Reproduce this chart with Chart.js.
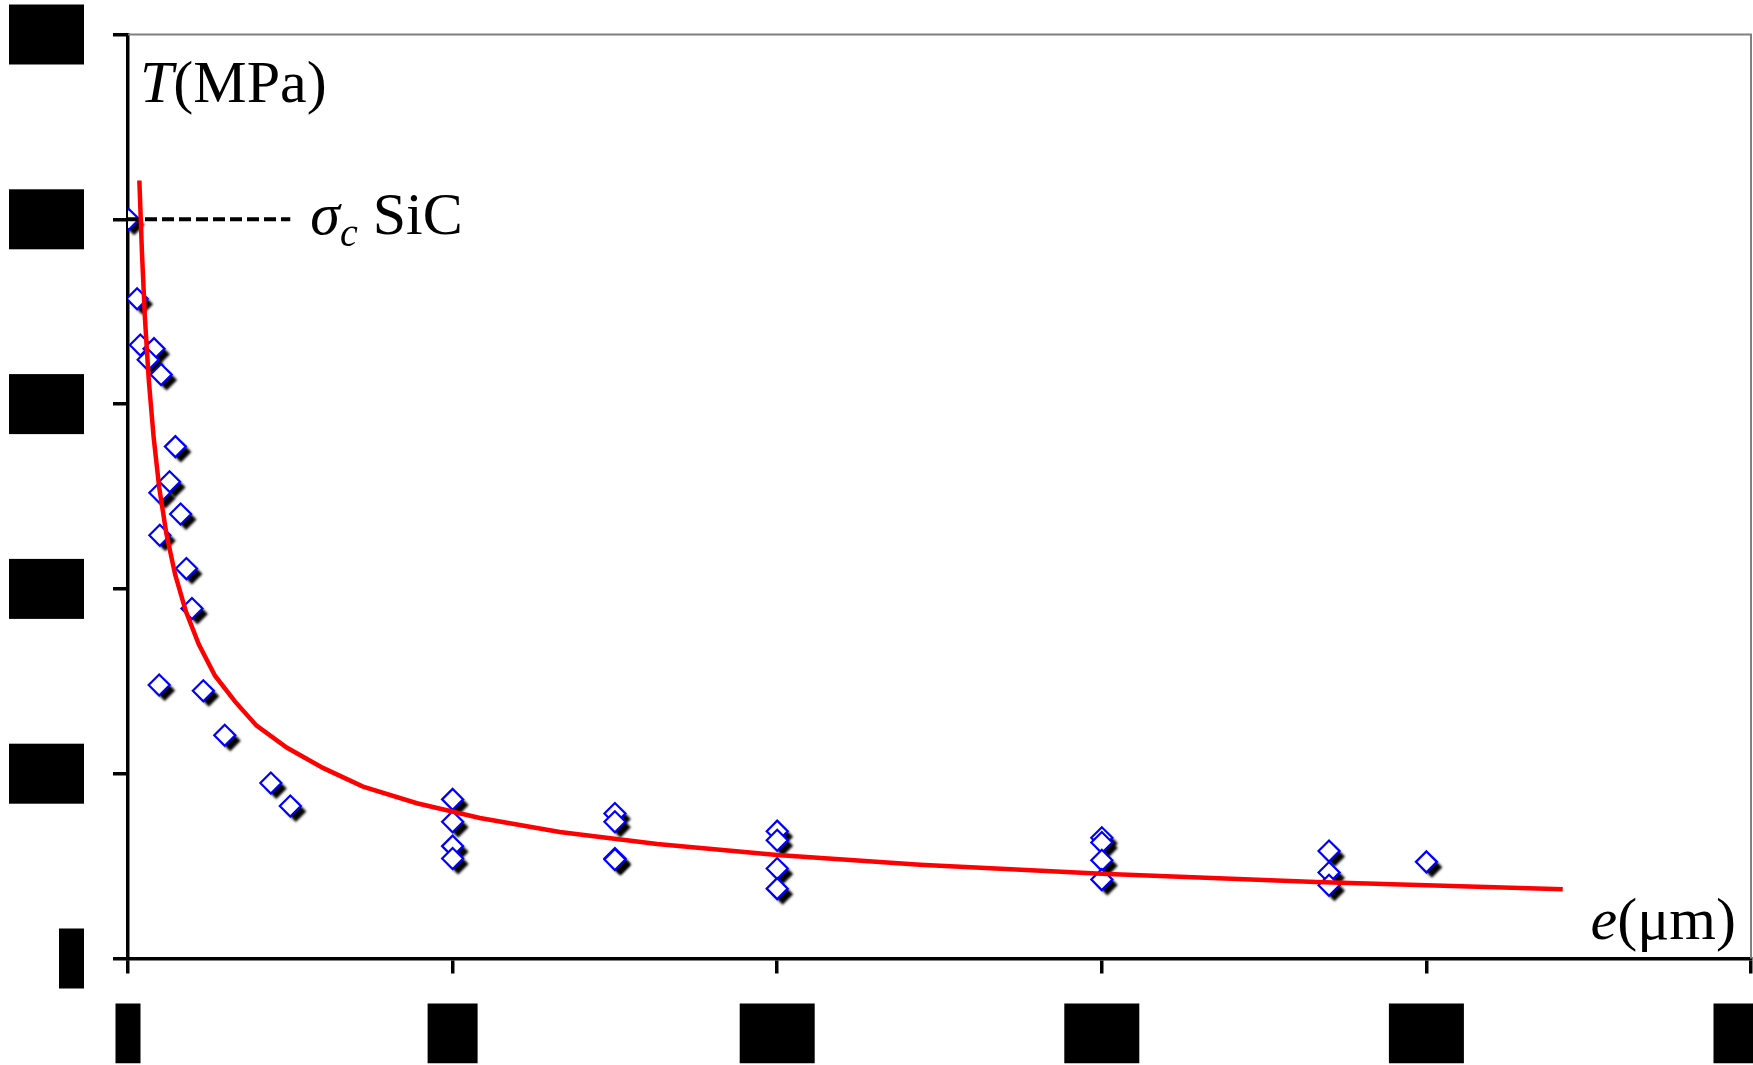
<!DOCTYPE html>
<html>
<head>
<meta charset="utf-8">
<script src="https://cdn.jsdelivr.net/npm/chart.js@4.4.1/dist/chart.umd.min.js"></script>
<style>
  html, body { margin: 0; padding: 0; background: #fff; overflow: hidden; }
  #wrap { width: 1753px; height: 1065px; position: relative; }
</style>
</head>
<body>
<div id="wrap"><canvas id="myChart"></canvas></div>
<script>
// measured points, e (um) and T (MPa)
const eMeasured = [0.1, 1.4, 1.9, 4.0, 3.1, 5.1, 7.3, 6.4, 4.9, 8.1, 4.9, 9.0, 9.85, 4.8, 11.6, 14.9, 22.0, 25.0,
    50, 50, 50, 50, 75, 75, 75, 75, 100, 100, 100, 100, 150, 150, 150, 150, 185, 185, 185, 200];
const tMeasured = [400, 357, 332, 330, 324, 316, 277, 258, 252, 240.5, 229, 211, 189.4, 148, 144.9, 120.8, 95, 82.5,
    86.1, 74.0, 60.8, 54.1, 78.5, 74.0, 54.1, 53.6, 68.9, 64.0, 48.7, 37.8, 65.3, 62.8, 53.2, 42.7, 58.2, 46.5, 39.6, 52.3];

// red fitted curve
const eFit = [1.75, 2.15, 2.6, 3.2, 3.95, 4.8, 5.9, 7.25, 8.9, 10.9, 13.4, 16.5, 19.8, 24.5, 30.1, 36.2,
    44.5, 54.2, 66.5, 81.5, 100, 122, 150, 183, 221];
const tFit = [421, 382, 347, 313, 282, 255, 230, 208, 188, 170, 153, 139, 126, 114, 103, 93,
    84, 76, 68.5, 62, 56, 50.7, 45.8, 41.4, 37.5];

// sigma_c SiC level
const eSigma = [0, 25];
const tSigma = [400, 400];

const xTicks = [0, 50, 100, 150, 200, 250];
const yTicks = [0, 100, 200, 300, 400, 500];

const toXY = (xs, ys) => xs.map((x, i) => ({x: x, y: ys[i]}));

const serif = '"Liberation Serif", "Times New Roman", serif';
const markerRadius = 10.5;

// black drop shadow, only for the shadow layer of the diamonds
const shadowPlugin = {
    id: 'shadow',
    beforeDatasetDraw(chart, args) {
        if (args.meta.label !== 'shadow') return;
        const ctx = chart.ctx;
        ctx.save();
        ctx.shadowColor = 'rgba(0,0,0,1)';
        ctx.shadowOffsetX = 5.5;
        ctx.shadowOffsetY = 5.5;
        ctx.shadowBlur = 2.5;
    },
    afterDatasetDraw(chart, args) {
        if (args.meta.label !== 'shadow') return;
        chart.ctx.restore();
    }
};

// gray frame on top and right + axis captions
const labelsPlugin = {
    id: 'labels',
    afterDraw(chart) {
        const ctx = chart.ctx;
        const a = chart.chartArea;
        const xs = chart.scales.x, ys = chart.scales.y;
        ctx.save();
        ctx.strokeStyle = '#808080';
        ctx.lineWidth = 2;
        ctx.beginPath();
        ctx.moveTo(a.left, a.top);
        ctx.lineTo(a.right, a.top);
        ctx.lineTo(a.right, a.bottom);
        ctx.stroke();

        ctx.fillStyle = '#000';
        ctx.textBaseline = 'alphabetic';
        ctx.textAlign = 'left';

        // T(MPa)
        let x = a.left + 12, y = a.top + 67;
        ctx.font = 'italic 60px ' + serif;
        ctx.fillText('T', x, y);
        x += ctx.measureText('T').width;
        ctx.font = '60px ' + serif;
        ctx.fillText('(MPa)', x, y);

        // sigma_c SiC
        x = xs.getPixelForValue(eSigma[1]) + 20;
        y = ys.getPixelForValue(tSigma[0]) + 15;
        ctx.font = 'italic 60px ' + serif;
        ctx.fillText('σ', x, y);
        x += ctx.measureText('σ').width;
        ctx.font = 'italic 40px ' + serif;
        ctx.fillText('c', x, y + 12);
        x += ctx.measureText('c').width;
        ctx.font = '60px ' + serif;
        ctx.fillText(' SiC', x, y);

        // e(um)
        ctx.font = '60px ' + serif;
        const tail = '(μm)';
        const wTail = ctx.measureText(tail).width;
        x = a.right - 15 - wTail;
        y = a.bottom - 20;
        ctx.fillText(tail, x, y);
        ctx.font = 'italic 60px ' + serif;
        ctx.fillText('e', x - ctx.measureText('e').width, y);
        ctx.restore();
    }
};

const tickFont = { family: serif, size: 50, lineHeight: 1.2 };

var ctx = document.getElementById('myChart').getContext('2d');
var myChart = new Chart(ctx, {
    type: 'scatter',
    data: {
        datasets: [
            {
                label: 'fit',
                type: 'line',
                data: toXY(eFit, tFit),
                borderColor: '#ff0000',
                borderWidth: 4.5,
                pointRadius: 0,
                tension: 0,
                fill: false,
                order: 0
            },
            {
                label: 'sigma c SiC',
                type: 'line',
                data: toXY(eSigma, tSigma),
                borderColor: '#000000',
                borderWidth: 4,
                borderDash: [12, 5],
                pointRadius: 0,
                fill: false,
                order: 1
            },
            {
                label: 'T',
                data: toXY(eMeasured, tMeasured),
                pointStyle: 'rectRot',
                pointRadius: markerRadius,
                borderWidth: 2.2,
                borderColor: '#0000ff',
                backgroundColor: '#ffffff',
                order: 2
            },
            {
                label: 'shadow',
                data: toXY(eMeasured, tMeasured),
                pointStyle: 'rectRot',
                pointRadius: markerRadius,
                borderWidth: 0,
                backgroundColor: '#000000',
                order: 3
            }
        ]
    },
    options: {
        responsive: true,
        maintainAspectRatio: false,
        animation: false,
        layout: { autoPadding: false, padding: { left: 9, top: 34.5, right: 2, bottom: 1.5 } },
        plugins: { legend: { display: false }, tooltip: { enabled: false } },
        scales: {
            x: {
                type: 'linear',
                min: xTicks[0],
                max: xTicks[xTicks.length - 1],
                afterBuildTicks: (s) => { s.ticks = xTicks.map(v => ({value: v})); },
                afterFit: (s) => { s.paddingRight = 0; s.paddingLeft = 0; s.height -= 30; },
                border: { display: true, color: '#000', width: 3.5 },
                grid: { drawOnChartArea: false, drawTicks: true, tickLength: 15, color: '#000', lineWidth: 3.5 },
                ticks: {
                    font: tickFont, color: '#000', padding: 30, maxRotation: 0,
                    showLabelBackdrop: true, backdropColor: '#000', backdropPadding: 0
                }
            },
            y: {
                type: 'linear',
                min: yTicks[0],
                max: yTicks[yTicks.length - 1],
                afterBuildTicks: (s) => { s.ticks = yTicks.map(v => ({value: v})); },
                afterFit: (s) => { s.paddingTop = 0; s.paddingBottom = 0; s.width -= 29; },
                border: { display: true, color: '#000', width: 3.5 },
                grid: { drawOnChartArea: false, drawTicks: true, tickLength: 15, color: '#000', lineWidth: 3.5 },
                ticks: {
                    font: tickFont, color: '#000', padding: 29,
                    showLabelBackdrop: true, backdropColor: '#000', backdropPadding: 0
                }
            }
        }
    },
    plugins: [shadowPlugin, labelsPlugin]
});
</script>
</body>
</html>
